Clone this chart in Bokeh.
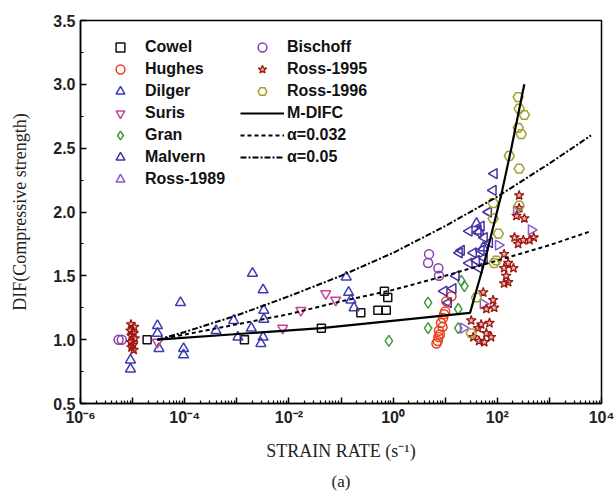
import math
from bokeh.plotting import figure
from bokeh.models import (FixedTicker, SingleIntervalTicker, Legend, LegendItem,
                          Title, NumeralTickFormatter)
from bokeh.embed import file_html
from bokeh.resources import INLINE

# ---------------- data (strain rate in s^-1, DIF) ----------------
cowel_x = [1.9e-5, 1.4e-3, 0.042, 0.24, 0.51, 0.68, 0.74, 0.79]
cowel_y = [1.00, 1.00, 1.09, 1.21, 1.23, 1.38, 1.23, 1.33]

hughes_x = [6.8, 7.2, 7.4, 7.6, 7.9, 8.3, 8.9, 9.1, 9.5, 10.0, 10.5, 13.2]
hughes_y = [0.97, 0.99, 1.02, 1.07, 1.04, 1.13, 1.10, 1.17, 1.20, 1.22, 1.30, 1.34]

dilger_x = [9.1e-6, 9.1e-6, 3.0e-5, 3.0e-5, 3.2e-5, 8.3e-5, 9.5e-5, 9.5e-5, 4.0e-4,
            8.7e-4, 1.05e-3, 1.9e-3, 2.0e-3, 3.2e-3, 3.3e-3, 3.3e-3, 3.2e-3, 2.9e-3,
            0.126, 0.14, 0.155, 0.178, 39.8, 44.7, 53.7]
dilger_y = [0.84, 0.77, 1.11, 1.05, 0.93, 1.29, 0.93, 0.88, 1.07,
            1.15, 1.02, 1.09, 1.52, 1.39, 1.23, 1.16, 1.02, 0.97,
            1.49, 1.37, 1.31, 1.25, 1.91, 1.85, 1.72]

suris_x = [3.0e-5, 7.6e-3, 0.017, 0.051, 0.079]
suris_y = [0.98, 1.09, 1.23, 1.36, 1.31]

gran_x = [0.83, 4.7, 4.7, 17.8, 17.8, 20.4, 23.4]
gran_y = [0.99, 1.29, 1.09, 1.24, 1.09, 1.46, 1.42]

malvern_x = [87.1, 83.2, 67.6, 49.0, 42.7, 28.8, 56.2, 70.8, 20.4, 34.7, 49.0, 39.8,
             56.2, 28.8, 44.7, 18.6, 16.2, 14.1, 9.5, 11.5]
malvern_y = [2.30, 2.17, 2.00, 1.89, 1.84, 1.85, 1.80, 1.76, 1.70, 1.68, 1.70, 1.62,
             1.64, 1.60, 1.56, 1.68, 1.50, 1.40, 1.38, 1.29]

ross1989_x = [22.4, 53.7, 105, 234, 450]
ross1989_y = [1.09, 1.28, 1.74, 2.01, 1.86]

bischoff_x = [5.4e-6, 6.2e-6, 4.9, 4.7, 7.4, 7.6]
bischoff_y = [1.00, 1.00, 1.67, 1.60, 1.56, 1.50]

ross1995_x = [9.3e-6, 1.07e-5, 9.1e-6, 1.05e-5, 9.5e-6, 1.1e-5, 9.3e-6, 1.02e-5, 9.5e-6, 1.05e-5,
              263, 263, 234, 331, 251, 214, 316, 417, 501, 135, 135, 162, 204, 148, 135, 162,
              87.1, 61.7, 53.7, 83.2, 31.6, 42.7, 34.7, 44.7, 70.8, 61.7, 56.2, 75.9, 49.0]
ross1995_y = [1.12, 1.10, 1.07, 1.05, 1.03, 1.01, 0.98, 0.96, 0.94, 0.92,
              2.13, 2.03, 1.97, 1.95, 1.75, 1.80, 1.78, 1.78, 1.80, 1.67, 1.56, 1.60, 1.56, 1.50, 1.44, 1.45,
              1.25, 1.24, 1.37, 1.31, 1.15, 1.09, 1.02, 0.99, 1.13, 1.05, 0.98, 1.02, 1.12]

ross1996_x = [251, 263, 331, 251, 288, 170, 263, 263, 83.2, 83.2, 105, 95.5, 87.1, 39.8, 31.6]
ross1996_y = [2.90, 2.81, 2.76, 2.66, 2.61, 2.44, 2.34, 2.05, 2.07, 1.95, 1.83, 1.62, 1.60, 1.33, 1.05]

mdifc_x = [3.0e-5, 0.042, 30, 56, 120, 186, 330]
mdifc_y = [1.00, 1.09, 1.21, 1.60, 2.14, 2.50, 3.00]

a032_x = [3.0e-5, 1e-4, 1e-3, 1e-2, 1e-1, 1, 10, 100, 1000, 6300]
a032_y = [1.00, 1.04, 1.12, 1.20, 1.30, 1.39, 1.50, 1.62, 1.74, 1.85]

a05_x = [3.0e-5, 1e-4, 1e-3, 1e-2, 1e-1, 1, 10, 100, 1000, 6300]
a05_y = [1.00, 1.06, 1.19, 1.34, 1.50, 1.68, 1.89, 2.12, 2.38, 2.60]

x_tick_values = [1e-6, 1e-5, 1e-4, 1e-3, 1e-2, 1e-1, 1.0, 1e1, 1e2, 1e3, 1e4]
x_tick_labels = ["10\u207b\u2076", "", "10\u207b\u2074", "", "10\u207b\u00b2", "",
                 "10\u2070", "", "10\u00b2", "", "10\u2074"]

# ---------------- figure ----------------
p = figure(width=614, height=496, x_axis_type="log", x_range=(1e-6, 1e4),
           y_range=(0.5, 3.5), output_backend="svg", toolbar_location=None,
           min_border_left=80, min_border_right=13, min_border_top=20,
           min_border_bottom=93)
p.xgrid.visible = False
p.ygrid.visible = False
p.outline_line_color = "black"
p.outline_line_width = 1.5

minor = [m * 10.0 ** k for k in range(-6, 4) for m in range(2, 10)]
p.xaxis.ticker = FixedTicker(ticks=x_tick_values, minor_ticks=minor)
p.xaxis.major_label_overrides = dict(zip(x_tick_values, x_tick_labels))
p.yaxis.ticker = SingleIntervalTicker(interval=0.5, num_minor_ticks=2)
p.yaxis.formatter = NumeralTickFormatter(format="0.0")

for ax in (p.xaxis[0], p.yaxis[0]):
    ax.axis_line_width = 1.5
    ax.major_tick_line_width = 1.5
    ax.minor_tick_line_width = 1.2
    ax.major_tick_in = 6
    ax.major_tick_out = 0
    ax.minor_tick_in = 3
    ax.minor_tick_out = 0
    ax.major_label_text_font = "Liberation Sans"
    ax.major_label_text_font_style = "bold"
    ax.major_label_text_font_size = "16px"
    ax.major_label_text_color = "#222222"
    ax.major_label_standoff = 5
    ax.axis_label_text_font = "Liberation Serif"
    ax.axis_label_text_font_style = "normal"
    ax.axis_label_text_font_size = "18px"
    ax.axis_label_text_color = "#222222"

p.xaxis.axis_label = "STRAIN RATE (s\u207b\u00b9)"
p.xaxis.axis_label_standoff = 12
p.yaxis.axis_label = "DIF(Compressive strength)"
p.yaxis.axis_label_standoff = 20

def sc(x, y, marker, color, size=10, angle=0.0, lw=1.5, fill_alpha=0.0):
    return p.scatter(x, y, marker=marker, size=size, angle=angle, line_color=color,
                     fill_color=color, fill_alpha=fill_alpha, line_width=lw)

r_cowel = sc(cowel_x, cowel_y, "square", "#111111", size=8)
r_hughes = sc(hughes_x, hughes_y, "circle", "#e8401c", size=9)
r_dilger = sc(dilger_x, dilger_y, "triangle", "#3c3cb4", size=10)
r_suris = sc(suris_x, suris_y, "inverted_triangle", "#c8449c", size=10)
r_gran = sc(gran_x, gran_y, "diamond", "#3d9a3d", size=11)
r_malvern = sc(malvern_x, malvern_y, "triangle", "#4a2fa0", size=10, angle=math.pi / 2)
r_r89 = sc(ross1989_x, ross1989_y, "triangle", "#8a58cc", size=10, angle=-math.pi / 2)
r_bis = sc(bischoff_x, bischoff_y, "circle", "#8a3cb0", size=9)
r_r95 = sc(ross1995_x, ross1995_y, "star", "#a01810", size=10, lw=1.3, fill_alpha=0.3)
r_r96 = sc(ross1996_x, ross1996_y, "hex", "#a3a02c", size=10)

r_md = p.line(mdifc_x, mdifc_y, line_color="black", line_width=2.2)
r_a1 = p.line(a032_x, a032_y, line_color="black", line_width=2.0, line_dash="4 3")
r_a2 = p.line(a05_x, a05_y, line_color="black", line_width=2.0, line_dash="6 2 2 2")

def mk_legend(items, loc):
    lg = Legend(items=[LegendItem(label=l, renderers=[r]) for l, r in items],
                location=loc, orientation="vertical", glyph_width=44, glyph_height=22,
                label_height=22, spacing=0, padding=0, margin=0, label_standoff=3,
                border_line_alpha=0, background_fill_alpha=0,
                label_text_font="Liberation Sans", label_text_font_style="bold",
                label_text_font_size="16px", label_text_color="#111111")
    return lg

leg1 = mk_legend([("Cowel", r_cowel), ("Hughes", r_hughes), ("Dilger", r_dilger),
                  ("Suris", r_suris), ("Gran", r_gran), ("Malvern", r_malvern),
                  ("Ross-1989", r_r89)], (18, 213))
leg2 = mk_legend([("Bischoff", r_bis), ("Ross-1995", r_r95), ("Ross-1996", r_r96),
                  ("M-DIFC", r_md), ("\u03b1=0.032", r_a1), ("\u03b1=0.05", r_a2)],
                 (160, 235))
p.add_layout(leg1)
p.add_layout(leg2)

p.add_layout(Title(text="(a)", align="center", text_font="Liberation Serif",
                   text_font_size="17px", text_font_style="normal",
                   text_color="#222222", standoff=12), "below")

open("out.html", "w").write(file_html(p, INLINE))
